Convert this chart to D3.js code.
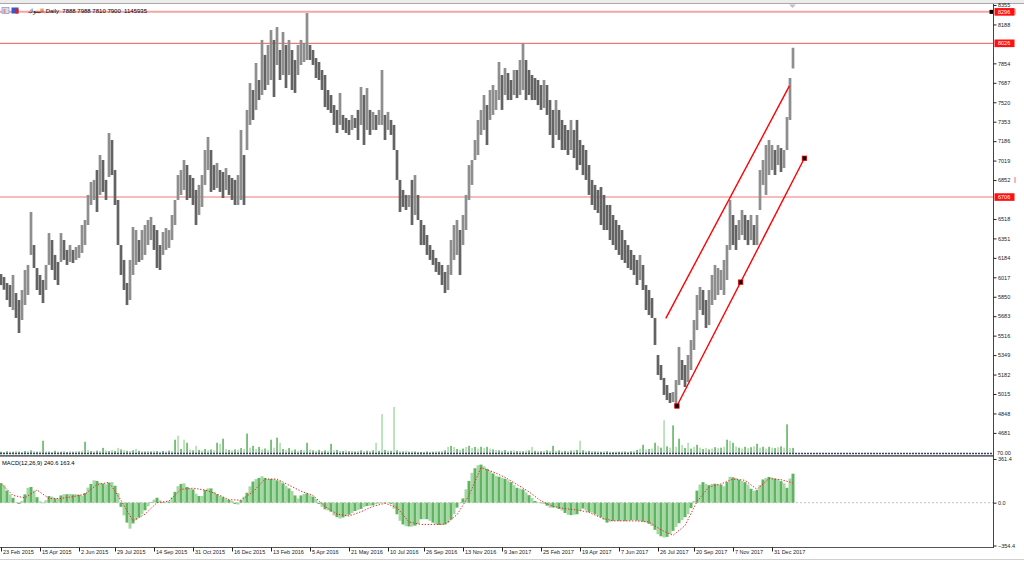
<!DOCTYPE html>
<html><head><meta charset="utf-8">
<script src="https://cdn.jsdelivr.net/npm/d3@7"></script>
<style>
html,body{margin:0;padding:0;background:#fff;}
svg{display:block;font-family:"Liberation Sans",Arial,sans-serif;}
</style></head><body>
<svg id="c" width="1024" height="561"></svg>
<script>
// ---------- data ----------
const symbolName = "البنوك";
const timeframe = "Daily";
const lastBar = [7888, 7988, 7810, 7900];
const lastVolume = 1145935;
const macdName = "MACD(12,26,9)";
const macdLast = [240.6, 163.4];

const high = [
6045,6020,5968,5951,6037,5882,5822,5908,6080,6123,
6578,6294,6097,6037,5994,6123,6397,6337,6209,6149,
6397,6337,6252,6294,6252,6277,6294,6466,6509,6724,
6836,6853,6938,7067,7024,6853,7256,7196,6938,6681,
6294,6166,5968,6166,6449,6423,6337,6423,6466,6509,
6535,6466,6423,6294,6406,6440,6423,6552,6681,6895,
6938,7024,6981,6895,6870,6767,6810,6895,7110,7222,
7110,6981,6999,6938,6921,6955,6895,6870,6853,6895,
7282,7067,7454,7685,7625,7857,7711,8055,7926,8012,
8140,8055,8166,7969,8123,8012,8055,7969,7883,8012,
8055,8029,8286,8012,7969,7900,7866,7797,7754,7625,
7582,7496,7454,7600,7411,7385,7368,7411,7385,7454,
7651,7582,7642,7454,7437,7411,7454,7797,7411,7437,
7368,7325,7110,6853,6767,6724,6724,6853,6895,6724,
6509,6466,6380,6294,6252,6183,6149,6123,6063,6123,
6337,6466,6509,6423,6552,6724,6981,7024,7196,7368,
7454,7582,7496,7625,7668,7625,7866,7754,7814,7771,
7711,7797,7797,7883,8029,7883,7797,7754,7728,7711,
7668,7711,7668,7539,7454,7539,7454,7368,7325,7282,
7368,7282,7368,7196,7153,7110,6981,6853,6810,6767,
6792,6724,6638,6638,6552,6509,6466,6423,6337,6294,
6252,6209,6166,6209,6123,5951,5908,5839,5668,5350,
5264,5153,5092,5024,5032,5135,5419,5307,5264,5350,
5479,5650,5865,5934,5908,5822,5908,6037,6123,6097,
6080,6166,6294,6681,6552,6466,6509,6595,6552,6509,
6552,6466,6552,6938,7024,7153,7196,7153,7110,7153,
7127,7110,7393,7728,7988];

const low = [
5950,5910,5822,5762,5736,5668,5539,5650,5779,5865,
6209,6097,5908,5865,5796,5908,6123,6080,5994,5951,
6149,6166,6123,6149,6140,6166,6183,6226,6294,6466,
6638,6681,6578,6724,6750,6681,6878,6895,6638,6294,
6037,5908,5779,5822,6037,6123,6149,6166,6209,6294,
6337,6252,6097,6080,6209,6252,6269,6337,6466,6681,
6724,6767,6681,6698,6638,6466,6552,6621,6810,6938,
6750,6767,6784,6750,6698,6767,6724,6681,6638,6638,
6681,6638,7110,7325,7368,7454,7539,7582,7625,7668,
7711,7565,7840,7711,7754,7642,7754,7625,7600,7754,
7840,7866,7883,7883,7840,7728,7711,7625,7479,7454,
7428,7325,7256,7325,7282,7256,7239,7282,7299,7196,
7325,7153,7282,7239,7282,7282,7325,7325,7196,7282,
7239,7110,6853,6578,6621,6595,6621,6466,6552,6509,
6294,6294,6209,6166,6123,6063,6037,5951,5882,5908,
6037,6166,6209,6037,6294,6423,6681,6810,7024,7067,
7239,7282,7153,7368,7411,7454,7539,7454,7582,7539,
7539,7582,7556,7582,7625,7539,7582,7539,7539,7496,
7454,7471,7411,7239,7127,7239,7196,7110,7110,7067,
7110,7041,6938,6981,6895,6853,6724,6638,6595,6569,
6466,6423,6423,6337,6294,6252,6209,6166,6140,6097,
6080,6037,5951,5994,5908,5736,5693,5668,5436,5178,
5135,5007,4963,4938,4946,4920,5092,5135,5075,5118,
5221,5393,5564,5736,5693,5582,5607,5779,5822,5865,
5908,5865,5994,6252,6294,6252,6337,6380,6337,6294,
6337,6294,6294,6595,6810,6724,6895,6938,6895,6981,
6921,6955,7110,7368,7810];

const volume = [
300,250,400,350,280,500,320,260,450,380,
600,420,300,350,2760,400,320,280,500,350,
300,450,260,380,300,420,350,500,2530,700,
450,380,520,400,1150,600,450,700,500,1150,
800,650,500,450,600,920,500,400,350,450,
380,500,420,300,460,350,520,400,2990,3910,
900,2990,2300,800,600,1610,700,550,900,650,
800,600,2300,2070,3220,900,700,600,800,750,
1100,900,4370,1200,1610,900,1380,800,1000,700,
2990,1200,3450,2300,900,700,1100,600,800,500,
700,600,2300,800,600,500,700,450,600,500,
2070,600,700,500,450,600,400,500,350,450,
600,400,500,450,600,2300,500,8740,700,600,
500,10350,600,400,350,500,300,400,350,300,
250,300,350,280,300,400,350,500,600,1380,
1600,1380,900,700,1000,1380,1610,1150,1380,1000,
1400,1150,1380,1000,800,700,600,500,650,400,
500,600,450,500,400,550,600,1380,500,450,
400,500,600,450,1610,500,600,400,500,450,
550,600,700,2760,600,400,500,450,350,400,
300,350,400,300,250,350,300,400,350,300,
400,500,700,1000,1840,800,900,1000,2300,1600,
1200,7360,1500,1200,6210,1400,3220,1800,1150,2300,
1000,1400,1840,1200,900,1150,800,1000,1300,1100,
1200,1400,2990,2760,2300,1500,1200,1000,1400,1100,
1300,1500,2070,1200,1400,1000,1380,1200,1100,1300,
1500,1200,6440,1150,1150];

const macd = [
160,143,100,69,40,5,-10,14,69,123,
130,100,45,12,0,20,55,50,33,35,
60,69,70,72,68,70,66,58,80,125,
155,185,180,165,158,152,165,170,140,80,
-35,-105,-165,-215,-172,-145,-122,-96,-63,-30,
5,25,41,19,6,2,10,45,90,137,
155,160,130,118,110,75,55,55,105,118,
118,90,70,55,45,30,22,14,-10,-15,
20,50,82,135,175,195,205,219,205,197,
197,195,185,178,160,140,118,96,60,35,
60,72,77,62,50,30,-10,-35,-55,-64,
-75,-105,-120,-132,-122,-112,-100,-85,-69,-60,
-52,-35,-27,-25,-22,-12,-6,-3,0,-2,
-10,-50,-96,-150,-180,-195,-197,-197,-190,-178,
-137,-137,-137,-150,-165,-177,-185,-185,-180,-170,
-140,-95,-41,-5,35,110,180,247,285,310,
315,300,280,260,242,222,215,207,198,185,
170,145,123,117,110,85,62,40,14,5,
-2,-12,-25,-41,-40,-41,-52,-65,-85,-100,
-103,-100,-96,-70,-49,-65,-78,-82,-95,-110,
-120,-143,-165,-158,-151,-150,-151,-150,-152,-150,
-146,-145,-148,-151,-157,-163,-175,-192,-225,-261,
-278,-288,-283,-260,-233,-200,-170,-145,-120,-96,
-45,15,100,150,170,155,145,155,157,153,
148,135,170,214,210,204,190,180,170,150,
115,98,105,145,192,205,213,207,200,192,
178,160,123,200,240];

// signal line, one reading every 4 bars
const signalStep = 4;
const signal = [160,60,40,105,35,35,50,70,150,168,20,-150,-95,0,14,110,120,105,70,25,
20,90,195,195,145,95,60,-30,-95,-110,-75,-30,-5,-40,-160,-180,-180,-178,-100,60,
290,255,210,150,90,14,-30,-50,-60,-80,-125,-151,-151,-151,-160,-225,-270,-190,10,130,
155,195,185,110,200,190,163];

// price axis labels (8021 and 6685 sit under the level tags and are not shown)
const priceTicks = [8355,8188,7854,7687,7520,7353,7186,7019,6852,6518,6351,6184,6017,5850,5683,5516,5349,5182,5015,4848,4681];
const macdTicks = [361.4, 0, -354.4];
const volumeLabel = "70.00";
const levels = [8296, 8026, 6706];

const dateLabels = ["23 Feb 2015","15 Apr 2015","2 Jun 2015","29 Jul 2015","14 Sep 2015","31 Oct 2015","16 Dec 2015","13 Feb 2016","5 Apr 2016","21 May 2016","10 Jul 2016","26 Sep 2016","13 Nov 2016","9 Jan 2017","25 Feb 2017","19 Apr 2017","7 Jun 2017","26 Jul 2017","20 Sep 2017","7 Nov 2017","31 Dec 2017"];
const dateBars = [0,13,26,38,51,64,77,90,103,116,129,141,154,167,180,193,206,219,231,244,257];

// trend channel anchors: [bar position, price]
const trendUpper = [[221.6,5665],[262.8,7660]];
const trendLower = [[225.3,4912],[267.8,7039]];

// ---------- drawing ----------
const W=1024, H=561, plotR=993;
const svg = d3.select("#c");
const x  = d3.scaleLinear().domain([0, high.length-1]).range([1, 793]);
const yP = d3.scaleLinear().domain([4681, 8355]).range([432.9, 5]);
const yV = d3.scaleLinear().domain([0, 10350]).range([453, 407]);
const yM = d3.scaleLinear().domain([-354.4, 361.4]).range([545.5, 459]);

svg.append("rect").attr("width",W).attr("height",H).attr("fill","#fff");
// top toolbar edge
svg.append("rect").attr("x",0).attr("y",0).attr("width",W).attr("height",3).attr("fill","#ececec");
svg.append("line").attr("x1",0).attr("x2",W).attr("y1",3.5).attr("y2",3.5).attr("stroke","#a9a9a9");
// shift marker
svg.append("path").attr("d","M789,4.5 L796,4.5 L792.5,8 Z").attr("fill","#c0c0c0");

// level lines
const levelColor = ["#f6a3a3","#e85a5a","#f6a3a3"];
const levelWidth = [2, 1, 1.5];
svg.append("g").selectAll("line").data(levels).join("line")
  .attr("x1",0).attr("x2",plotR).attr("y1",d=>yP(d)).attr("y2",d=>yP(d))
  .attr("stroke",(d,i)=>levelColor[i]).attr("stroke-width",(d,i)=>levelWidth[i]);
svg.append("rect").attr("x",989.5).attr("y",yP(levels[0])-2).attr("width",4).attr("height",4).attr("fill","#000");

// volume bars
svg.append("g").selectAll("rect").data(volume).join("rect")
  .attr("x",(d,i)=>x(i)-0.6).attr("width",1.3)
  .attr("y",d=>yV(d)).attr("height",d=>yV(0)-yV(d))
  .attr("fill",(d,i)=> i%2 ? "#9fd49f" : "#3aa53a");
// bottom band of price pane
svg.append("line").attr("x1",0).attr("x2",plotR).attr("y1",453.5).attr("y2",453.5)
  .attr("stroke","#34466e").attr("stroke-width",1.6).attr("stroke-dasharray","2,1");
svg.append("line").attr("x1",0).attr("x2",plotR).attr("y1",455.8).attr("y2",455.8)
  .attr("stroke","#6a6a6a").attr("stroke-width",1.8);

// price bars
svg.append("g").selectAll("rect").data(high).join("rect")
  .attr("x",(d,i)=>x(i)-1.35).attr("width",2.7)
  .attr("y",d=>yP(d)).attr("height",(d,i)=>Math.max(1, yP(low[i])-yP(d)))
  .attr("fill",(d,i)=> (i>0 && d+low[i] >= high[i-1]+low[i-1]) ? "#8e8e8e" : "#636363");

// trend channel
[trendUpper, trendLower].forEach(t=>{
  svg.append("line")
    .attr("x1",x(t[0][0])).attr("y1",yP(t[0][1]))
    .attr("x2",x(t[1][0])).attr("y2",yP(t[1][1]))
    .attr("stroke","#ff0000").attr("stroke-width",1.4);
});
const mid = [(trendLower[0][0]+trendLower[1][0])/2, (trendLower[0][1]+trendLower[1][1])/2];
svg.append("g").selectAll("rect").data([trendLower[0], mid, trendLower[1]]).join("rect")
  .attr("x",d=>x(d[0])-2.2).attr("y",d=>yP(d[1])-2.2).attr("width",4.4).attr("height",4.4)
  .attr("fill","#000").attr("stroke","#e00").attr("stroke-width",0.8);

// MACD pane
svg.append("line").attr("x1",0).attr("x2",plotR).attr("y1",yM(0)).attr("y2",yM(0))
  .attr("stroke","#c4c4c4").attr("stroke-dasharray","2,2");
svg.append("g").selectAll("rect").data(macd).join("rect")
  .attr("x",(d,i)=>x(i)-1.5).attr("width",3)
  .attr("y",d=>Math.min(yM(d),yM(0))).attr("height",d=>Math.max(0.5,Math.abs(yM(d)-yM(0))))
  .attr("fill",(d,i)=> i%2 ? "#a6d7a6" : "#5fb55f");
svg.append("path").datum(signal)
  .attr("d", d3.line().x((d,k)=>x(k*signalStep)).y(d=>yM(d)))
  .attr("fill","none").attr("stroke","#ee2222").attr("stroke-width",1).attr("stroke-dasharray","1.3,1.7");
svg.append("text").attr("x",2).attr("y",464.5).attr("font-size",5.8).attr("fill","#000")
  .text(`${macdName} ${macdLast[0].toFixed(1)} ${macdLast[1].toFixed(1)}`);

// frames
svg.append("line").attr("x1",0).attr("x2",plotR).attr("y1",547.5).attr("y2",547.5).attr("stroke","#555");
svg.append("line").attr("x1",plotR+0.5).attr("x2",plotR+0.5).attr("y1",4).attr("y2",548).attr("stroke","#444");
svg.append("line").attr("x1",0).attr("x2",W).attr("y1",559.5).attr("y2",559.5).attr("stroke","#d0d0d0");

// price axis
const gP = svg.append("g").attr("transform",`translate(${plotR+0.5},0)`)
  .call(d3.axisRight(yP).tickValues(priceTicks).tickSize(3).tickPadding(1.5).tickFormat(d3.format("d")));
gP.select(".domain").remove();
gP.attr("font-size",5.5).attr("font-family","Liberation Sans, Arial, sans-serif").attr("color","#222");

// level labels
const lg = svg.append("g").selectAll("g").data(levels).join("g")
  .attr("transform",d=>`translate(${plotR+1.5},${yP(d)})`);
lg.append("rect").attr("x",0).attr("y",-3.8).attr("width",20).attr("height",7.6).attr("fill","#ff1010");
lg.append("text").attr("x",3.5).attr("dy","0.35em").attr("font-size",5.5).attr("fill","#fff").text(d=>d);
// alert marks right of axis
svg.append("g").selectAll("line").data([levels[0], priceTicks[8]]).join("line")
  .attr("x1",1015).attr("x2",1015).attr("y1",d=>yP(d)-3).attr("y2",d=>yP(d)+3)
  .attr("stroke","#f44").attr("stroke-width",0.8);

// volume / macd axis
svg.append("text").attr("x",plotR+4).attr("y",yV(0)+1.8).attr("font-size",5.5).attr("fill","#222").text(volumeLabel);
const gM = svg.append("g").attr("transform",`translate(${plotR+0.5},0)`)
  .call(d3.axisRight(yM).tickValues(macdTicks).tickSize(3).tickPadding(1.5).tickFormat(d3.format(".1f")));
gM.select(".domain").remove();
gM.attr("font-size",5.5).attr("font-family","Liberation Sans, Arial, sans-serif").attr("color","#222");

// date axis
const gD = svg.append("g").attr("transform","translate(0,547.5)")
  .call(d3.axisBottom(x).tickValues(dateBars).tickSize(4).tickFormat((d,i)=>dateLabels[i]));
gD.select(".domain").remove();
gD.attr("font-size",5.5).attr("font-family","Liberation Sans, Arial, sans-serif").attr("color","#222");
gD.selectAll("text").attr("text-anchor","start").attr("x",1.5).attr("y",2.6);

// header
svg.append("rect").attr("x",2).attr("y",7.5).attr("width",7).attr("height",6).attr("fill","#d4dcf2").attr("stroke","#7a86b8").attr("stroke-width",0.6);
svg.append("rect").attr("x",3.5).attr("y",9).attr("width",2).attr("height",4).attr("fill","#f08a8a");
svg.append("rect").attr("x",11.5).attr("y",7.5).attr("width",7).attr("height",6).attr("fill","#3b57c4");
svg.append("rect").attr("x",15.5).attr("y",9).attr("width",3).attr("height",4.5).attr("fill","#e02020");
svg.append("text").attr("x",44).attr("y",12.6).attr("font-size",6).attr("text-anchor","end").attr("fill","#000").text(symbolName);
svg.append("text").attr("x",44).attr("y",12.6).attr("font-size",6).attr("fill","#000")
  .style("white-space","pre")
  .text(`,${timeframe}  ${lastBar.join(" ")}  ${lastVolume}`);
</script>
</body></html>
